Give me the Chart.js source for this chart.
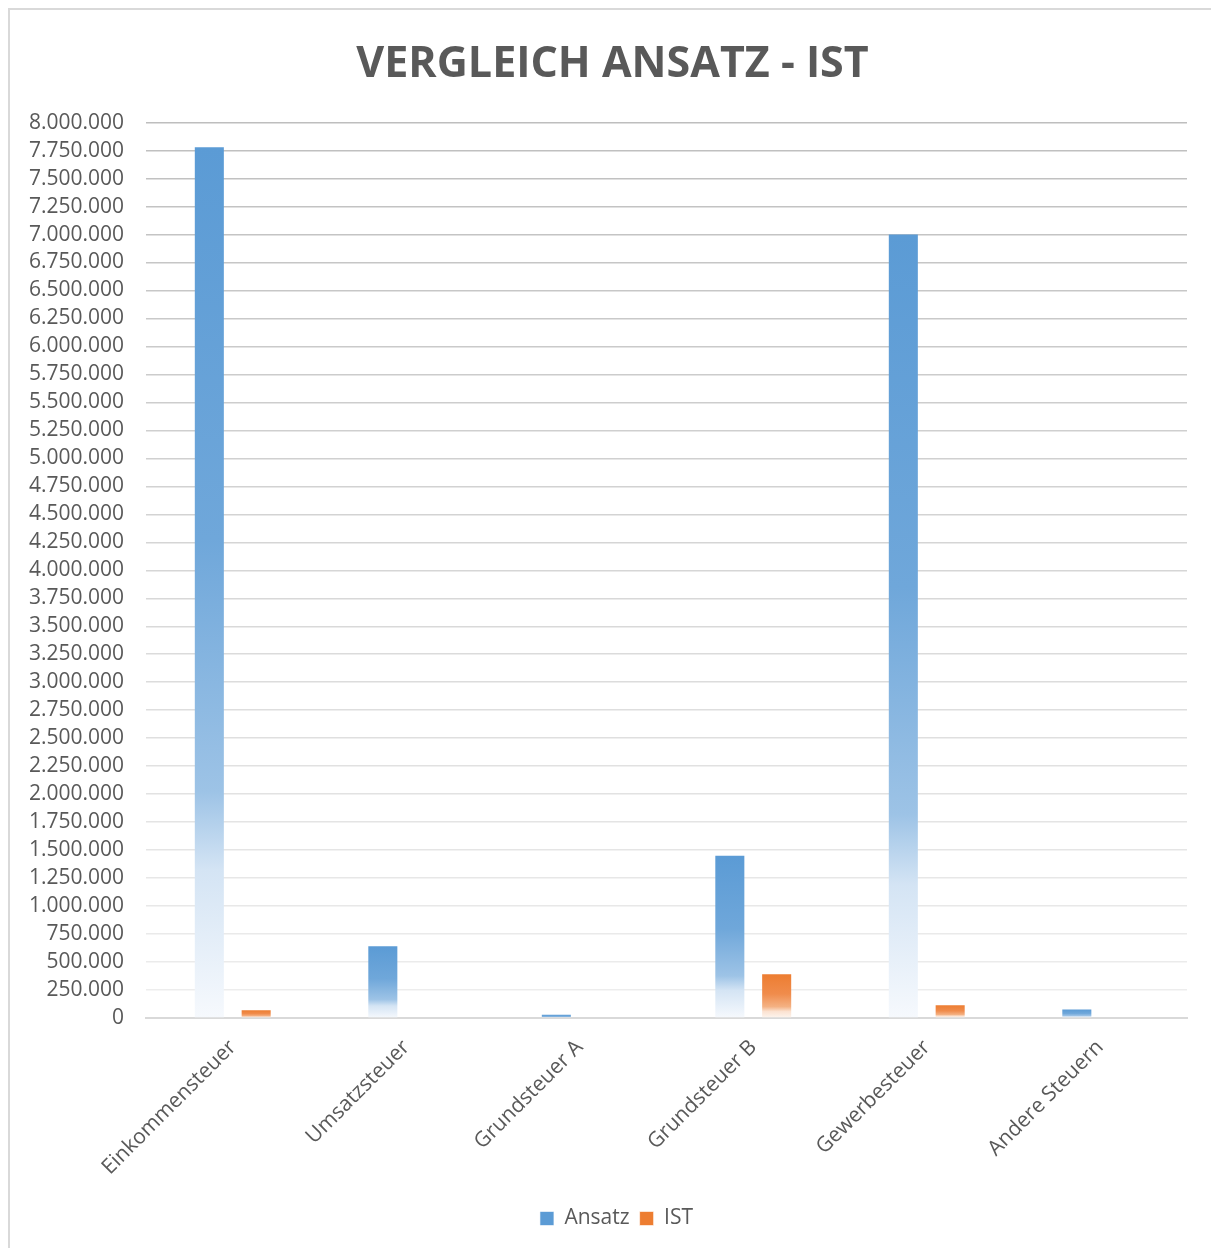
<!DOCTYPE html>
<html lang="de">
<head>
    <meta charset="UTF-8">
    <title>Vergleich Ansatz - IST</title>
    <script src="https://cdn.jsdelivr.net/npm/chart.js"></script>
    <style>
        body {
            margin: 0;
            background: #ffffff;
            font-family: 'Open Sans', sans-serif;
        }
        #frame {
            position: absolute;
            left: 8px;
            top: 8px;
            width: 1220px;
            height: 1260px;
            border: 2px solid #d9d9d9;
        }
        #chart-container {
            position: absolute;
            left: 10px;
            top: 10px;
            width: 1201px;
            height: 1238px;
        }
    </style>
</head>
<body>
    <div id="frame"></div>
    <div id="chart-container">
        <canvas id="taxChart"></canvas>
    </div>

    <script>
        const categories = ["Einkommensteuer", "Umsatzsteuer", "Grundsteuer A", "Grundsteuer B", "Gewerbesteuer", "Andere Steuern"];
        const ansatzValues = [7780000, 640000, 30000, 1450000, 7000000, 75000];
        const istValues = [70000, 0, 0, 390000, 115000, 0];

        const textColor = "#595959";

        // Verlauf pro Balken: oben kräftig, unten fast weiß (wie in Excel)
        const blueStops = [[0, "#5b9bd5"], [0.45, "#6fa7da"], [0.74, "#9dc3e6"], [0.83, "#d4e4f4"], [1, "#f6f9fd"]];
        const orangeStops = [[0, "#ed7d31"], [0.45, "#f08c4c"], [0.74, "#f4b183"], [0.85, "#fbe2d1"], [1, "#fdf5ef"]];

        function barFill(stops) {
            return function (ctx) {
                const chart = ctx.chart;
                const y = chart.scales.y;
                if (!chart.chartArea || !y || typeof ctx.raw !== "number") return stops[0][1];
                const top = y.getPixelForValue(ctx.raw);
                const bottom = y.getPixelForValue(0);
                if (bottom - top < 1) return stops[0][1];
                const g = chart.ctx.createLinearGradient(0, top, 0, bottom);
                stops.forEach(s => g.addColorStop(s[0], s[1]));
                return g;
            };
        }

        function gridColor(ctx) {
            const t = ctx.tick ? ctx.tick.value / 8000000 : 0;
            const c = Math.round(238 - t * 48);
            return "rgb(" + c + "," + c + "," + c + ")";
        }

        const legendColors = ["#5b9bd5", "#ed7d31"];

        // Titel und Legende etwas nach rechts schieben (wie im Original)
        const shiftBoxes = {
            id: "shiftBoxes",
            afterLayout(chart) {
                if (chart.titleBlock) {
                    chart.titleBlock.left += 14;
                    chart.titleBlock.right += 14;
                }
                if (chart.legend) {
                    chart.legend.left += 18;
                    chart.legend.right += 18;
                }
            }
        };

        const ctx = document.getElementById("taxChart").getContext("2d");
        new Chart(ctx, {
            type: "bar",
            data: {
                labels: categories,
                datasets: [{
                    label: "Ansatz",
                    data: ansatzValues,
                    backgroundColor: barFill(blueStops),
                    borderWidth: 0,
                    categoryPercentage: 0.54,
                    barPercentage: 0.62
                }, {
                    label: "IST",
                    data: istValues,
                    backgroundColor: barFill(orangeStops),
                    borderWidth: 0,
                    categoryPercentage: 0.54,
                    barPercentage: 0.62
                }]
            },
            plugins: [shiftBoxes],
            options: {
                responsive: true,
                maintainAspectRatio: false,
                animation: false,
                layout: {
                    padding: { top: 0, right: 24, bottom: 9, left: 0 }
                },
                plugins: {
                    title: {
                        display: true,
                        text: "VERGLEICH ANSATZ - IST",
                        color: textColor,
                        font: { family: "'Open Sans', sans-serif", size: 43, weight: "bold" },
                        padding: { top: 29, bottom: 32 }
                    },
                    legend: {
                        position: "bottom",
                        labels: {
                            color: textColor,
                            font: { family: "'Open Sans', sans-serif", size: 21 },
                            boxWidth: 14,
                            boxHeight: 14,
                            padding: 10,
                            generateLabels: function (chart) {
                                return chart.data.datasets.map((ds, i) => ({
                                    text: ds.label,
                                    fillStyle: legendColors[i],
                                    strokeStyle: "rgba(255,255,255,0.6)",
                                    lineWidth: 1,
                                    fontColor: textColor,
                                    hidden: !chart.isDatasetVisible(i),
                                    datasetIndex: i
                                }));
                            }
                        }
                    },
                    tooltip: { enabled: false }
                },
                scales: {
                    x: {
                        grid: { display: false, drawTicks: false },
                        border: { color: "#d9d9d9", width: 2 },
                        ticks: {
                            color: textColor,
                            font: { family: "'Open Sans', sans-serif", size: 21 },
                            minRotation: 45,
                            maxRotation: 45,
                            padding: 17
                        },
                        afterFit: function (scale) { scale.height = 180; }
                    },
                    y: {
                        min: 0,
                        max: 8000000,
                        grid: { color: gridColor, lineWidth: 1.5, drawTicks: false },
                        border: { display: false },
                        ticks: {
                            stepSize: 250000,
                            autoSkip: false,
                            color: textColor,
                            padding: 22,
                            font: { family: "'Open Sans', sans-serif", size: 21 },
                            callback: v => v.toLocaleString("de-DE")
                        },
                        afterFit: function (scale) { scale.width = 136; }
                    }
                }
            }
        });
    </script>
</body>
</html>
